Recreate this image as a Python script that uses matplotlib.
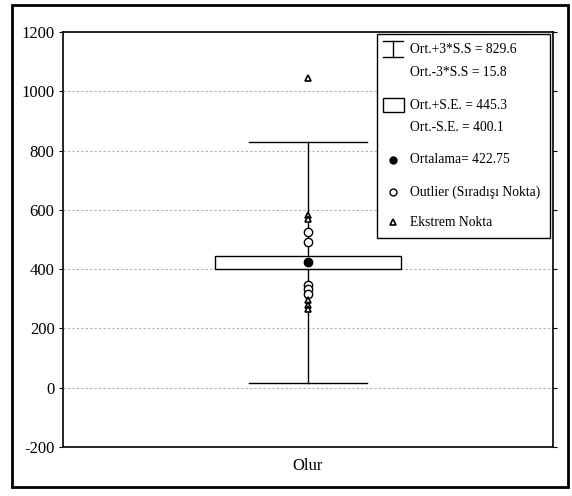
import matplotlib.pyplot as plt
from matplotlib.patches import Rectangle

plt.rcParams['font.family'] = ['Liberation Serif', 'DejaVu Serif']

# veriler
kategori = ['Olur']
ortalama = 422.75
ust_sinir = 829.6    # Ort.+3*S.S
alt_sinir = 15.8     # Ort.-3*S.S
ust_se = 445.3       # Ort.+S.E.
alt_se = 400.1       # Ort.-S.E.
outlier = [526, 492, 346, 332, 316]
ekstrem = [1045, 583, 568, 296, 279, 264]
y_ticks = [-200, 0, 200, 400, 600, 800, 1000, 1200]

fig = plt.figure(figsize=(5.72, 4.96), dpi=100)
ax = fig.add_axes([0.110, 0.0988, 0.857, 0.8367])

x0 = 1.0
# whisker + caps
ax.plot([x0, x0], [alt_sinir, ust_sinir], color='black', lw=1, zorder=2)
ax.plot([x0 - 0.24, x0 + 0.24], [ust_sinir, ust_sinir], color='black', lw=1, zorder=2)
ax.plot([x0 - 0.24, x0 + 0.24], [alt_sinir, alt_sinir], color='black', lw=1, zorder=2)
# kutu
ax.add_patch(Rectangle((x0 - 0.38, alt_se), 0.76, ust_se - alt_se,
                       facecolor='white', edgecolor='black', lw=1, zorder=3))
# noktalar
ax.plot([x0], [ortalama], 'o', color='black', ms=6, zorder=4)
ax.plot([x0] * len(outlier), outlier, 'o', mfc='white', mec='black', ms=6, mew=1, zorder=4)
ax.plot([x0] * len(ekstrem), ekstrem, '^', mfc='white', mec='black', ms=5, mew=1.2, zorder=5)

ax.set_xlim(0, 2)
ax.set_ylim(-200, 1200)
ax.set_yticks(y_ticks)
ax.set_yticklabels([str(v) for v in y_ticks], fontsize=12)
ax.set_xticks([x0])
ax.set_xticklabels(kategori, fontsize=12)
ax.tick_params(axis='y', length=3, right=True, direction='out', pad=3)
ax.tick_params(axis='x', length=0, pad=8)
ax.yaxis.grid(True, linestyle=(0, (2, 2)), color='#b0b0b0', lw=0.8)
ax.set_axisbelow(True)
for s in ax.spines.values():
    s.set_linewidth(1.2)

# lejant (elle)
T = ax.transAxes
ax.add_patch(Rectangle((0.641, 0.5036), 0.353, 0.4914, transform=T,
                       facecolor='white', edgecolor='black', lw=1, zorder=10))
sx = 0.6735
tx = 0.708
fs = 9.8
ax.plot([sx - 0.021, sx + 0.021], [0.978, 0.978], transform=T, color='black', lw=1, zorder=11)
ax.plot([sx - 0.021, sx + 0.021], [0.939, 0.939], transform=T, color='black', lw=1, zorder=11)
ax.plot([sx, sx], [0.939, 0.978], transform=T, color='black', lw=1, zorder=11)
ax.add_patch(Rectangle((sx - 0.0215, 0.807), 0.043, 0.034, transform=T,
                       facecolor='white', edgecolor='black', lw=1, zorder=11))
ax.plot([sx], [0.692], 'o', transform=T, color='black', ms=5, zorder=11)
ax.plot([sx], [0.614], 'o', transform=T, mfc='white', mec='black', ms=5, zorder=11)
ax.plot([sx], [0.542], '^', transform=T, mfc='white', mec='black', ms=4, mew=1.2, zorder=11)

satirlar = [('Ort.+3*S.S = %.1f' % ust_sinir, 0.957),
            ('Ort.-3*S.S = %.1f' % alt_sinir, 0.902),
            ('Ort.+S.E. = %.1f' % ust_se, 0.824),
            ('Ort.-S.E. = %.1f' % alt_se, 0.769),
            ('Ortalama= %.2f' % ortalama, 0.692),
            ('Outlier (Sıradışı Nokta)', 0.614),
            ('Ekstrem Nokta', 0.542)]
for metin, yy in satirlar:
    ax.text(tx, yy, metin, transform=T, fontsize=fs, va='center', ha='left', zorder=12)

# dis cerceve
fig.patches.append(Rectangle((0.021, 0.018), 0.972, 0.972, transform=fig.transFigure,
                             fill=False, edgecolor='black', lw=2))

fig.savefig('out.png', dpi=100)
